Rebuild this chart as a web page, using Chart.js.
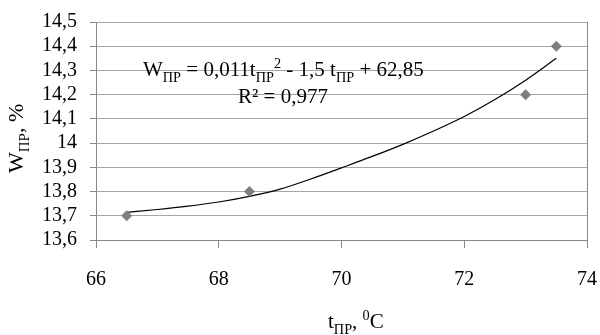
<!DOCTYPE html>
<html>
<head>
<meta charset="utf-8">
<script src="https://cdn.jsdelivr.net/npm/chart.js@4.4.1/dist/chart.umd.min.js"></script>
<style>
  body { margin: 0; background: #fff; }
  #wrap { width: 600px; height: 335px; }
</style>
</head>
<body>
<div id="wrap"><canvas id="chart"></canvas></div>
<script>
// measured points
const tempPoints = [66.5, 68.5, 73, 73.5];
const moisturePoints = [13.7, 13.8, 14.2, 14.4];
// polynomial trend line
const trendTemp = [66.5, 67, 67.5, 68, 68.5, 69, 69.5, 70, 70.5, 71, 71.5, 72, 72.5, 73, 73.5];
const trendMoisture = [13.714, 13.726, 13.74, 13.757, 13.78, 13.81, 13.852, 13.898, 13.945, 13.995, 14.05, 14.11, 14.18, 14.26, 14.35];
const xTicks = [66, 68, 70, 72, 74];
const yTicks = [13.6, 13.7, 13.8, 13.9, 14, 14.1, 14.2, 14.3, 14.4, 14.5];

const FONT = "'Liberation Serif', 'Times New Roman', serif";

// draws a line of text with subscripts / superscripts
function richText(ctx, parts, x, y, size) {
    let cx = x;
    parts.forEach(p => {
        let s = size, dy = 0;
        if (p.sub) { s = size * 0.68; dy = size * 0.28; }
        if (p.sup) { s = size * 0.68; dy = -size * 0.38; }
        ctx.font = s + 'px ' + FONT;
        ctx.fillText(p.t, cx, y + dy);
        cx += ctx.measureText(p.t).width;
    });
}

const labelsPlugin = {
    id: 'labels',
    afterDraw(chart) {
        const ctx = chart.ctx;
        ctx.save();
        ctx.fillStyle = '#000';
        ctx.textBaseline = 'alphabetic';
        ctx.textAlign = 'left';
        richText(ctx, [
            {t: 'W'}, {t: 'ПР', sub: true}, {t: ' = 0,011t'}, {t: 'ПР', sub: true}, {t: '2', sup: true},
            {t: ' - 1,5 t'}, {t: 'ПР', sub: true}, {t: ' + 62,85'}
        ], 143, 76, 21);
        richText(ctx, [{t: 'R² = 0,977'}], 238, 103, 21);
        richText(ctx, [{t: 't'}, {t: 'ПР', sub: true}, {t: ', '}, {t: '0', sup: true}, {t: 'C'}], 328, 328, 21);
        ctx.translate(23, 173);
        ctx.rotate(-Math.PI / 2);
        richText(ctx, [{t: 'W'}, {t: 'ПР', sub: true}, {t: ', %'}], 0, 0, 22);
        ctx.restore();
    }
};

new Chart(document.getElementById('chart'), {
    type: 'scatter',
    data: {
        datasets: [
            {
                label: 'W',
                data: tempPoints.map((t, i) => ({x: t, y: moisturePoints[i]})),
                pointStyle: 'rectRot',
                pointRadius: 5.5,
                backgroundColor: '#7f7f7f',
                borderColor: '#7f7f7f',
                borderWidth: 0,
                order: 1
            },
            {
                label: 'trend',
                data: trendTemp.map((t, i) => ({x: t, y: trendMoisture[i]})),
                showLine: true,
                borderColor: '#000',
                borderWidth: 1.2,
                pointRadius: 0,
                cubicInterpolationMode: 'monotone',
                order: 2
            }
        ]
    },
    options: {
        responsive: true,
        maintainAspectRatio: false,
        animation: false,
        layout: { padding: { top: 22, right: 13, left: 0, bottom: 0 } },
        plugins: { legend: { display: false }, tooltip: { enabled: false } },
        scales: {
            x: {
                type: 'linear',
                min: 66, max: 74,
                afterBuildTicks: s => { s.ticks = xTicks.map(v => ({value: v})); },
                afterFit: s => { s.height = 95; s.paddingLeft = 0; s.paddingRight = 0; },
                border: { color: '#888', width: 1 },
                grid: {
                    color: c => (c.tick && c.tick.value === 74) ? '#888' : 'rgba(0,0,0,0)',
                    tickColor: '#888',
                    tickLength: 8
                },
                ticks: { padding: 20, autoSkip: false, maxRotation: 0, color: '#000', font: { family: FONT, size: 20 } }
            },
            y: {
                min: 13.6, max: 14.5,
                afterBuildTicks: s => { s.ticks = yTicks.map(v => ({value: v})); },
                afterFit: s => { s.width = 96; s.paddingTop = 0; s.paddingBottom = 0; },
                border: { color: '#888', width: 1 },
                grid: { color: '#a6a6a6', tickColor: '#888', tickLength: 6 },
                ticks: {
                    padding: 13, autoSkip: false, color: '#000', font: { family: FONT, size: 20 },
                    callback: v => String(Math.round(v * 10) / 10).replace('.', ',')
                }
            }
        }
    },
    plugins: [labelsPlugin]
});
</script>
</body>
</html>
